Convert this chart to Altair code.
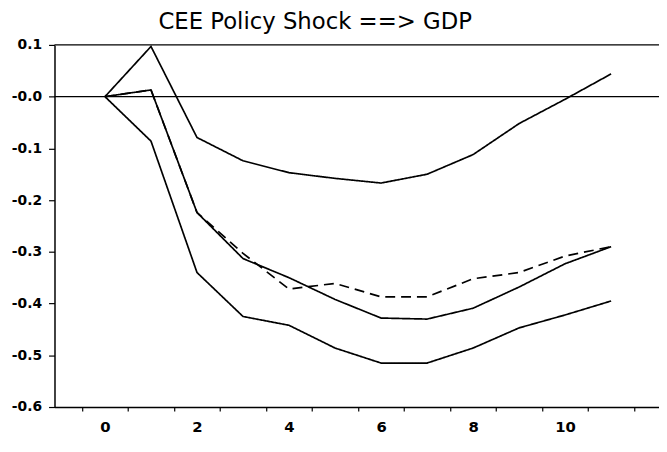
import altair as alt
import pandas as pd

periods = list(range(12))
upper = [0.0, 0.097, -0.079, -0.124, -0.147, -0.158, -0.167, -0.150, -0.112, -0.052, -0.005, 0.044]
point = [0.0, 0.013, -0.224, -0.313, -0.350, -0.392, -0.428, -0.430, -0.409, -0.368, -0.323, -0.290]
lower = [0.0, -0.086, -0.340, -0.425, -0.442, -0.486, -0.515, -0.515, -0.486, -0.447, -0.422, -0.395]
alt_est = [0.0, 0.013, -0.224, -0.303, -0.372, -0.361, -0.387, -0.387, -0.352, -0.340, -0.308, -0.290]

y_ticks = [0.1, 0.0, -0.1, -0.2, -0.3, -0.4, -0.5, -0.6]
x_ticks = [i + 0.5 for i in range(-1, 12)]
ref_lines = [0.0, 0.1]

rows = []
for name, vals, dash in [("upper", upper, "solid"), ("point", point, "solid"),
                         ("lower", lower, "solid"), ("alt", alt_est, "dashed")]:
    for p, v in zip(periods, vals):
        rows.append({"period": p, "value": v, "series": name, "style": dash})
df = pd.DataFrame(rows)

font = "DejaVu Sans"
xscale = alt.Scale(domain=[-1.097, 12.04], nice=False, zero=False)
yscale = alt.Scale(domain=[-0.6, 0.1], nice=False, zero=False)

xaxis = alt.Axis(values=x_ticks, title=None, grid=False, tickSize=4, tickColor="black",
                 domainColor="black", domainWidth=1.5, tickWidth=1.2,
                 labelOffset=23.25, labelOverlap=False, labelFlush=False, labelBound=False,
                 labelExpr="((datum.value + 0.5) % 2 == 0 && datum.value < 11) ? format(datum.value + 0.5, 'd') : ''",
                 labelFont=font, labelFontSize=15, labelFontWeight="bold", labelColor="black",
                 labelPadding=9)
yaxis = alt.Axis(values=y_ticks, title=None, grid=False, tickSize=6, tickColor="black",
                 domainColor="black", domainWidth=1.5, tickWidth=1.2,
                 labelExpr="(datum.value > 0.05 ? '' : '-') + format(abs(datum.value), '.1f')",
                 labelFont=font, labelFontSize=14, labelFontWeight="bold", labelColor="black",
                 labelPadding=7, labelOverlap=False, labelFlush=False)

lines = alt.Chart(df).mark_line(color="black", strokeWidth=1.7).encode(
    x=alt.X("period:Q", scale=xscale, axis=xaxis),
    y=alt.Y("value:Q", scale=yscale, axis=yaxis),
    detail="series:N",
    strokeDash=alt.StrokeDash("style:N", scale=alt.Scale(domain=["solid", "dashed"],
                                                          range=[[1, 0], [10, 6]]), legend=None),
)

rules = alt.Chart(pd.DataFrame({"y": ref_lines})).mark_rule(color="black", strokeWidth=1.3).encode(
    y=alt.Y("y:Q", scale=yscale)
)

chart = alt.layer(rules, lines).properties(
    width=611, height=366,
    title=alt.TitleParams("CEE Policy Shock ==> GDP", font=font, fontSize=23, fontWeight="normal",
                          color="black", anchor="start", frame="group", dx=105, offset=4),
    autosize=alt.AutoSizeParams(type="none"),
    padding={"left": 47, "top": 35, "right": 0, "bottom": 30},
).configure_view(stroke=None)

chart.save("out.html", embed_options={"renderer": "svg", "actions": False})
